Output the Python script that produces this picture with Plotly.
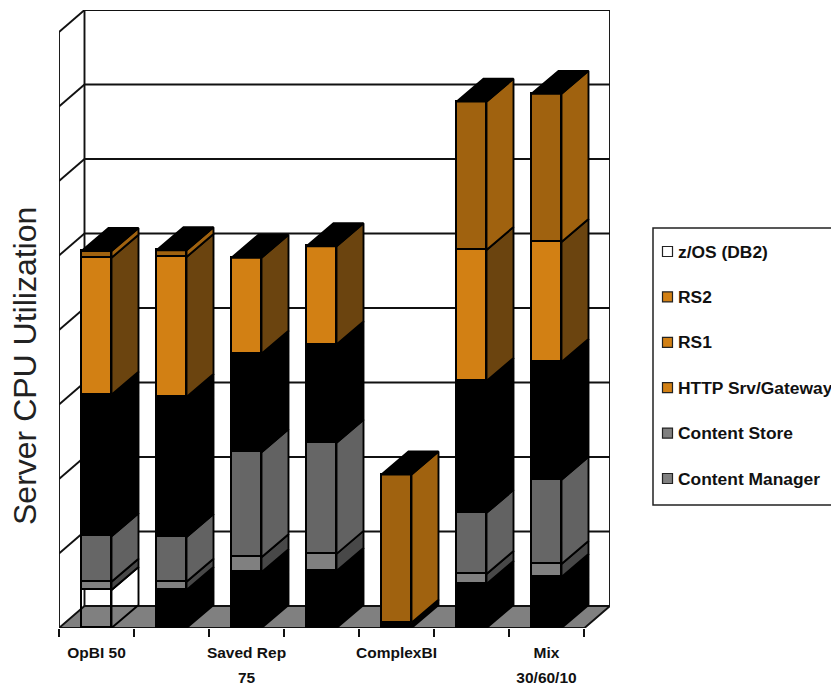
import plotly.graph_objects as go

# ---- data (percent CPU) ----
group_positions = [0.5, 1.5, 2.5, 3.5, 4.5, 5.5, 6.5]
label_positions = [0.5, 2.5, 4.5, 6.5]
label_line1 = ["OpBI 50", "Saved Rep", "ComplexBI", "Mix"]
label_line2 = ["", "75", "", "30/60/10"]

zos = [5.1, 5.1, 7.5, 7.65, 0.7, 5.9, 6.85]
content_manager = [1.1, 1.1, 2.0, 2.3, None, 1.35, 1.75]
content_store = [6.1, 6.0, 14.1, 14.9, None, 8.2, 11.3]
http_gateway = [19.0, 18.8, 13.2, 13.2, None, 17.7, 15.8]
rs1 = [18.4, 18.8, 12.9, 13.2, None, 17.6, 16.1]
rs2 = [0.9, 0.9, None, None, 19.9, 19.9, 19.9]
grid_levels = [0, 10, 20, 30, 40, 50, 60, 70, 80]

# ---- styles ----
NONE = "rgba(0,0,0,0)"
ORANGE, ORANGE_SIDE, BROWN = "#d28014", "#6b440f", "#a0620f"
stack = [
    ("z/OS (DB2)", zos, [NONE, "#000", "#000", "#000", "#000", "#000", "#000"],
     [NONE, "#000", "#000", "#000", "#000", "#000", "#000"]),
    ("Content Manager", content_manager, ["#808080"] * 7, ["#484848"] * 7),
    ("Content Store", content_store, ["#666666"] * 7, ["#626262"] * 7),
    ("HTTP Srv/Gateway", http_gateway, ["#000"] * 7, ["#000"] * 7),
    ("RS1", rs1, [ORANGE] * 7, [ORANGE_SIDE] * 7),
    ("RS2", rs2, [BROWN] * 7, [BROWN] * 7),
]
legend_swatches = [
    ("z/OS (DB2)", "#ffffff"), ("RS2", ORANGE), ("RS1", ORANGE),
    ("HTTP Srv/Gateway", ORANGE), ("Content Store", "#808080"), ("Content Manager", "#808080"),
]

W, H = 831, 684
LEFT, RIGHT_EDGE, TOP, BASE = 59, 610, 10, 628
PX_X = 75.0                # px per category
PX_Y = 7.45                # px per percent
WALL_DX, WALL_DY = 25.5 / PX_X, 22 / PX_Y
BAR_DX, BAR_DY = 27 / PX_X, 23 / PX_Y
BAR_W = 30 / PX_X
N = len(group_positions)
LINE = "#111111"
LW = 1.9
x_range = [0, (RIGHT_EDGE - LEFT) / PX_X]
y_range = [0, (BASE - TOP) / PX_Y]

fig = go.Figure()

# front faces
for name, vals, fronts, _ in stack:
    fig.add_trace(go.Bar(
        x=group_positions, y=vals, name=name, width=BAR_W, showlegend=False,
        marker=dict(color=fronts, line=dict(color="#000", width=LW)), xaxis="x", yaxis="y",
    ))

# side and top faces, projected from the same values
cum = [0.0] * N
for name, vals, _, sides in stack:
    for i in range(N):
        if vals[i] is None:
            continue
        y0, y1 = cum[i], cum[i] + vals[i]
        xr = group_positions[i] + BAR_W / 2
        fig.add_trace(go.Scatter(
            x=[xr, xr + BAR_DX, xr + BAR_DX, xr, xr],
            y=[y0, y0 + BAR_DY, y1 + BAR_DY, y1, y0],
            mode="lines", fill="toself", fillcolor=sides[i],
            line=dict(color="#000", width=LW), showlegend=False, hoverinfo="skip",
        ))
        cum[i] = y1
for i in range(N):
    xl, xr = group_positions[i] - BAR_W / 2, group_positions[i] + BAR_W / 2
    t = cum[i]
    fig.add_trace(go.Scatter(
        x=[xl, xl + BAR_DX, xr + BAR_DX, xr, xl],
        y=[t, t + BAR_DY, t + BAR_DY, t, t],
        mode="lines", fill="toself", fillcolor="#000",
        line=dict(color="#000", width=LW), showlegend=False, hoverinfo="skip",
    ))

# legend entries (text comes from the legend; the swatches sit closer to it as shapes below)
for name, colour in legend_swatches:
    fig.add_trace(go.Scatter(
        x=[None], y=[None], mode="markers", name=name, legendgroup=name,
        marker=dict(symbol="square", size=10, color=NONE, line=dict(color=NONE, width=0)),
    ))

# walls and floor
shapes = []
def seg(x0, y0, x1, y1):
    shapes.append(dict(type="line", x0=x0, y0=y0, x1=x1, y1=y1, xref="x", yref="y",
                       layer="below", line=dict(color=LINE, width=LW)))

xe = x_range[1] - WALL_DX
shapes.append(dict(
    type="path", xref="x", yref="y", layer="below", fillcolor="#808080",
    line=dict(color=LINE, width=LW),
    path=f"M 0 0 L {WALL_DX} {WALL_DY} L {x_range[1]} {WALL_DY} L {xe} 0 Z",
))
for v in grid_levels[1:]:
    seg(0, v, WALL_DX, v + WALL_DY)
    seg(WALL_DX, v + WALL_DY, x_range[1], v + WALL_DY)
top = grid_levels[-1]
seg(0, 0, 0, top)
seg(WALL_DX, WALL_DY, WALL_DX, top + WALL_DY)
seg(x_range[1], WALL_DY, x_range[1], top + WALL_DY)

# paper coordinates are relative to the plot area
plot_w, plot_h = RIGHT_EDGE - LEFT, BASE - TOP
px = lambda p: (p - LEFT) / plot_w
py = lambda p: (BASE - p) / plot_h
shapes.append(dict(type="rect", xref="paper", yref="paper", x0=px(653), x1=px(900),
                   y0=py(505), y1=py(228), line=dict(color="#222", width=1.5), layer="above"))
ROW0, ROW_STEP = 251.5, 45.4
for k, (name, colour) in enumerate(legend_swatches):
    cy = ROW0 + k * ROW_STEP
    shapes.append(dict(type="rect", xref="paper", yref="paper", x0=px(662.5), x1=px(672.5),
                       y0=py(cy + 5), y1=py(cy - 5), fillcolor=colour,
                       line=dict(color="#222", width=1.2), layer="above"))

tick_font = dict(family="Liberation Sans", size=15.5, color="#111")
fig.update_layout(
    width=W, height=H, paper_bgcolor="white", plot_bgcolor="rgba(0,0,0,0)",
    barmode="stack", bargap=0, showlegend=True, shapes=shapes,
    margin=dict(l=LEFT, r=W - RIGHT_EDGE, t=TOP, b=H - BASE, pad=0, autoexpand=False),
    xaxis=dict(range=x_range, tickmode="array", tickvals=list(range(N + 1)),
               ticktext=[""] * (N + 1), ticks="outside", ticklen=8, tickwidth=LW,
               tickcolor=LINE, showgrid=False, zeroline=False, showline=False),
    xaxis2=dict(range=x_range, overlaying="x", side="bottom", anchor="y", tickmode="array",
                tickvals=label_positions, ticktext=[f"<b>{t}</b>" for t in label_line1],
                ticks="outside", ticklen=10, tickcolor=NONE, tickfont=tick_font,
                showgrid=False, zeroline=False, showline=False),
    xaxis3=dict(range=x_range, overlaying="x", side="bottom", anchor="y", tickmode="array",
                tickvals=label_positions, ticktext=[f"<b>{t}</b>" for t in label_line2],
                ticks="outside", ticklen=35, tickcolor=NONE, tickfont=tick_font,
                showgrid=False, zeroline=False, showline=False),
    yaxis=dict(range=y_range, showticklabels=False, ticks="", showgrid=False,
               zeroline=False, showline=False),
    legend=dict(xref="container", yref="container", x=638 / W, y=1 - 233 / H,
                xanchor="left", yanchor="top", traceorder="grouped", tracegroupgap=19.8,
                bgcolor=NONE, borderwidth=0, itemclick=False, itemdoubleclick=False,
                font=dict(family="Liberation Sans", size=17.4, color="#111", weight="bold")),
    annotations=[dict(text="Server CPU Utilization", textangle=-90, xref="paper", yref="paper",
                      x=px(25), y=py(366), xanchor="center", yanchor="middle", showarrow=False,
                      font=dict(family="Liberation Sans", size=32, color="#222"))],
)
# axis-bearing helper traces so the label axes are drawn
fig.add_trace(go.Scatter(x=[None], y=[None], xaxis="x2", yaxis="y", showlegend=False, hoverinfo="skip"))
fig.add_trace(go.Scatter(x=[None], y=[None], xaxis="x3", yaxis="y", showlegend=False, hoverinfo="skip"))

fig.write_html("out.html", config=dict(displayModeBar=False),
               post_script="document.body.style.margin='0';")
